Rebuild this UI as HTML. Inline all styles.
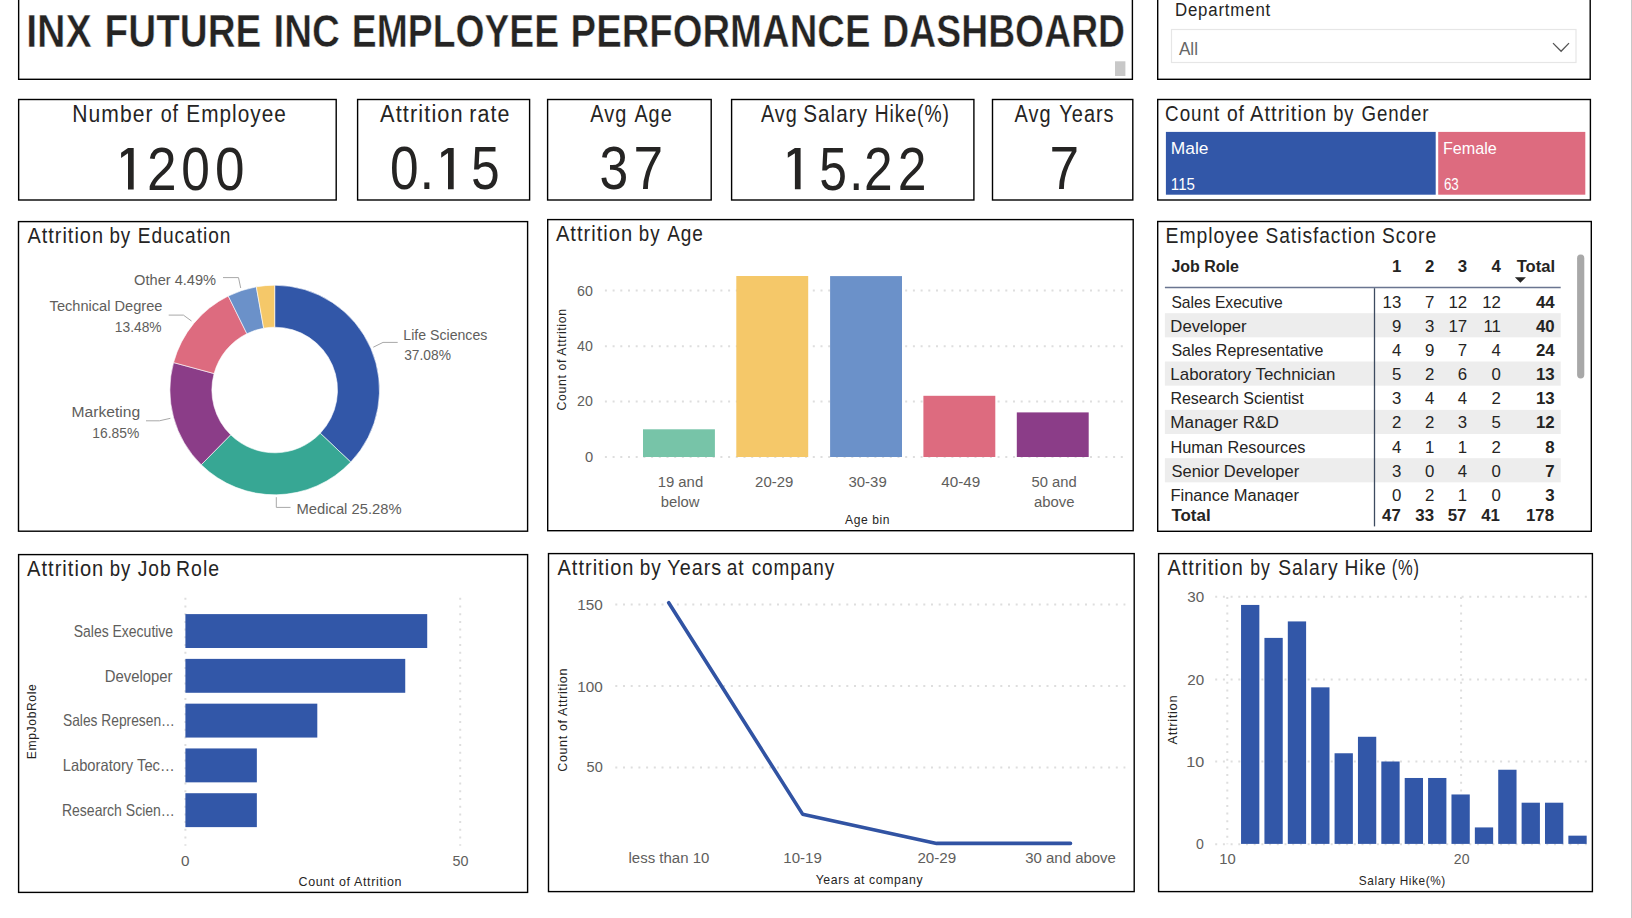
<!DOCTYPE html>
<html><head><meta charset="utf-8"><style>
html,body{margin:0;padding:0;background:#fff;width:1632px;height:918px;overflow:hidden}
svg{display:block}
text{font-family:"Liberation Sans",sans-serif;white-space:pre}
</style></head><body>
<svg width="1632" height="918" viewBox="0 0 1632 918">
<defs><clipPath id="clipRow9"><rect x="1160" y="480" width="420" height="22"/></clipPath></defs>
<rect width="1632" height="918" fill="#fff"/>
<rect x="18.65" y="-5.00" width="1113.75" height="84.30" fill="none" stroke="#000" stroke-width="1.4"/>
<rect x="1157.70" y="-5.00" width="432.50" height="84.30" fill="none" stroke="#000" stroke-width="1.4"/>
<rect x="18.65" y="99.50" width="317.55" height="100.50" fill="none" stroke="#000" stroke-width="1.4"/>
<rect x="357.60" y="99.50" width="172.00" height="100.50" fill="none" stroke="#000" stroke-width="1.4"/>
<rect x="547.60" y="99.50" width="163.60" height="100.50" fill="none" stroke="#000" stroke-width="1.4"/>
<rect x="731.60" y="99.50" width="242.30" height="100.50" fill="none" stroke="#000" stroke-width="1.4"/>
<rect x="992.50" y="99.50" width="140.30" height="100.50" fill="none" stroke="#000" stroke-width="1.4"/>
<rect x="1157.70" y="99.50" width="432.70" height="100.50" fill="none" stroke="#000" stroke-width="1.4"/>
<rect x="18.50" y="221.60" width="509.10" height="309.60" fill="none" stroke="#000" stroke-width="1.4"/>
<rect x="547.70" y="219.60" width="585.50" height="311.10" fill="none" stroke="#000" stroke-width="1.4"/>
<rect x="1157.70" y="221.50" width="433.60" height="309.80" fill="none" stroke="#000" stroke-width="1.4"/>
<rect x="18.60" y="554.60" width="509.00" height="337.80" fill="none" stroke="#000" stroke-width="1.4"/>
<rect x="548.50" y="553.60" width="585.70" height="338.00" fill="none" stroke="#000" stroke-width="1.4"/>
<rect x="1158.60" y="553.60" width="433.80" height="338.00" fill="none" stroke="#000" stroke-width="1.4"/>
<line x1="1631.50" y1="0.00" x2="1631.50" y2="918.00" stroke="#C8C8C8" stroke-width="1"/>
<rect x="1115.00" y="61.30" width="10.40" height="14.70" fill="#C8C8C8" />
<rect x="1171.5" y="29.5" width="404.5" height="33" fill="#fff" stroke="#E6E6E6" stroke-width="1.2"/>
<polyline points="1553.00,43.10 1561.10,51.20 1569.00,43.10" fill="none" stroke="#555" stroke-width="1.3" />
<rect x="1165.90" y="131.90" width="269.80" height="62.80" fill="#3257A8" />
<rect x="1438.20" y="131.90" width="147.10" height="62.80" fill="#DD6B7F" />
<path d="M274.70,285.20 A104.8,104.8 0 0 1 350.74,462.12 L320.27,433.22 A62.8,62.8 0 0 0 274.70,327.20 Z" fill="#3257A8" stroke="#fff" stroke-width="0.6" stroke-linejoin="round"/>
<path d="M350.74,462.12 A104.8,104.8 0 0 1 201.25,464.76 L230.69,434.80 A62.8,62.8 0 0 0 320.27,433.22 Z" fill="#37A794" stroke="#fff" stroke-width="0.6" stroke-linejoin="round"/>
<path d="M201.25,464.76 A104.8,104.8 0 0 1 173.55,362.58 L214.09,373.57 A62.8,62.8 0 0 0 230.69,434.80 Z" fill="#8B3D88" stroke="#fff" stroke-width="0.6" stroke-linejoin="round"/>
<path d="M173.55,362.58 A104.8,104.8 0 0 1 228.28,296.04 L246.88,333.70 A62.8,62.8 0 0 0 214.09,373.57 Z" fill="#DD6B7F" stroke="#fff" stroke-width="0.6" stroke-linejoin="round"/>
<path d="M228.28,296.04 A104.8,104.8 0 0 1 256.30,286.83 L263.67,328.18 A62.8,62.8 0 0 0 246.88,333.70 Z" fill="#6B91C9" stroke="#fff" stroke-width="0.6" stroke-linejoin="round"/>
<path d="M256.30,286.83 A104.8,104.8 0 0 1 274.70,285.20 L274.70,327.20 A62.8,62.8 0 0 0 263.67,328.18 Z" fill="#F5C869" stroke="#fff" stroke-width="0.6" stroke-linejoin="round"/>
<polyline points="373.30,347.20 383.00,342.40 397.70,342.40" fill="none" stroke="#A8A8A8" stroke-width="1" />
<polyline points="276.30,497.20 276.30,507.40 290.50,507.40" fill="none" stroke="#A8A8A8" stroke-width="1" />
<polyline points="146.00,420.80 159.40,420.80 170.40,418.30" fill="none" stroke="#A8A8A8" stroke-width="1" />
<polyline points="168.70,315.10 183.40,315.10 191.50,321.00" fill="none" stroke="#A8A8A8" stroke-width="1" />
<polyline points="223.00,277.60 238.50,277.60 240.70,288.00" fill="none" stroke="#A8A8A8" stroke-width="1" />
<line x1="604.90" y1="290.60" x2="1128.00" y2="290.60" stroke="#DEDEDE" stroke-width="2" stroke-dasharray="2 5.7"/>
<line x1="604.90" y1="346.20" x2="1128.00" y2="346.20" stroke="#DEDEDE" stroke-width="2" stroke-dasharray="2 5.7"/>
<line x1="604.90" y1="401.60" x2="1128.00" y2="401.60" stroke="#DEDEDE" stroke-width="2" stroke-dasharray="2 5.7"/>
<line x1="604.90" y1="457.00" x2="1128.00" y2="457.00" stroke="#DEDEDE" stroke-width="2" stroke-dasharray="2 5.7"/>
<rect x="643.00" y="429.30" width="71.90" height="27.70" fill="#77C4A8" />
<rect x="736.30" y="276.00" width="71.90" height="181.00" fill="#F5C869" />
<rect x="830.10" y="276.10" width="71.90" height="180.90" fill="#6B91C9" />
<rect x="923.40" y="395.80" width="71.90" height="61.20" fill="#DD6B7F" />
<rect x="1016.80" y="412.40" width="71.90" height="44.60" fill="#8B3D88" />
<rect x="1164.90" y="313.17" width="395.80" height="24.17" fill="#EDEDED" />
<rect x="1164.90" y="361.51" width="395.80" height="24.17" fill="#EDEDED" />
<rect x="1164.90" y="409.85" width="395.80" height="24.17" fill="#EDEDED" />
<rect x="1164.90" y="458.19" width="395.80" height="24.17" fill="#EDEDED" />
<line x1="1164.90" y1="287.50" x2="1560.70" y2="287.50" stroke="#6A7590" stroke-width="1.3"/>
<line x1="1374.50" y1="288.20" x2="1374.50" y2="526.40" stroke="#3D4B60" stroke-width="1.3"/>
<path d="M1514.9,277.2 L1525.9,277.2 L1520.4,282.8 Z" fill="#252423"/>
<rect x="1577.1" y="254.6" width="7.2" height="123.8" rx="3.6" fill="#A8A8A8"/>
<line x1="185.40" y1="597.80" x2="185.40" y2="845.80" stroke="#DEDEDE" stroke-width="2" stroke-dasharray="2 5.7"/>
<line x1="460.20" y1="597.80" x2="460.20" y2="845.80" stroke="#DEDEDE" stroke-width="2" stroke-dasharray="2 5.7"/>
<rect x="185.40" y="614.10" width="241.82" height="33.90" fill="#3257A8" />
<rect x="185.40" y="658.88" width="219.84" height="33.90" fill="#3257A8" />
<rect x="185.40" y="703.66" width="131.90" height="33.90" fill="#3257A8" />
<rect x="185.40" y="748.44" width="71.45" height="33.90" fill="#3257A8" />
<rect x="185.40" y="793.22" width="71.45" height="33.90" fill="#3257A8" />
<line x1="615.30" y1="604.60" x2="1125.40" y2="604.60" stroke="#DEDEDE" stroke-width="2" stroke-dasharray="2 5.7"/>
<line x1="615.30" y1="686.10" x2="1125.40" y2="686.10" stroke="#DEDEDE" stroke-width="2" stroke-dasharray="2 5.7"/>
<line x1="615.30" y1="767.40" x2="1125.40" y2="767.40" stroke="#DEDEDE" stroke-width="2" stroke-dasharray="2 5.7"/>
<polyline points="668.70,602.68 802.60,814.14 936.60,843.42 1070.50,843.42" fill="none" stroke="#3153A3" stroke-width="3.6" stroke-linecap="round" stroke-linejoin="round"/>
<line x1="1215.20" y1="596.80" x2="1589.20" y2="596.80" stroke="#DEDEDE" stroke-width="2" stroke-dasharray="2 5.7"/>
<line x1="1215.20" y1="679.60" x2="1589.20" y2="679.60" stroke="#DEDEDE" stroke-width="2" stroke-dasharray="2 5.7"/>
<line x1="1215.20" y1="761.50" x2="1589.20" y2="761.50" stroke="#DEDEDE" stroke-width="2" stroke-dasharray="2 5.7"/>
<line x1="1215.20" y1="844.30" x2="1589.20" y2="844.30" stroke="#DEDEDE" stroke-width="2" stroke-dasharray="2 5.7"/>
<line x1="1227.30" y1="597.00" x2="1227.30" y2="844.30" stroke="#DEDEDE" stroke-width="2" stroke-dasharray="2 5.7"/>
<line x1="1461.10" y1="597.00" x2="1461.10" y2="844.30" stroke="#DEDEDE" stroke-width="2" stroke-dasharray="2 5.7"/>
<rect x="1241.05" y="604.94" width="18.30" height="238.96" fill="#3257A8" />
<rect x="1264.43" y="637.90" width="18.30" height="206.00" fill="#3257A8" />
<rect x="1287.81" y="621.42" width="18.30" height="222.48" fill="#3257A8" />
<rect x="1311.19" y="687.34" width="18.30" height="156.56" fill="#3257A8" />
<rect x="1334.57" y="753.26" width="18.30" height="90.64" fill="#3257A8" />
<rect x="1357.95" y="736.78" width="18.30" height="107.12" fill="#3257A8" />
<rect x="1381.33" y="761.50" width="18.30" height="82.40" fill="#3257A8" />
<rect x="1404.71" y="777.98" width="18.30" height="65.92" fill="#3257A8" />
<rect x="1428.09" y="777.98" width="18.30" height="65.92" fill="#3257A8" />
<rect x="1451.47" y="794.46" width="18.30" height="49.44" fill="#3257A8" />
<rect x="1474.85" y="827.42" width="18.30" height="16.48" fill="#3257A8" />
<rect x="1498.23" y="769.74" width="18.30" height="74.16" fill="#3257A8" />
<rect x="1521.61" y="802.70" width="18.30" height="41.20" fill="#3257A8" />
<rect x="1544.99" y="802.70" width="18.30" height="41.20" fill="#3257A8" />
<rect x="1568.37" y="835.66" width="18.30" height="8.24" fill="#3257A8" />
<path d="M133.70,148.10 L128.00,148.10 L121.10,152.70 L121.10,157.90 L128.00,153.30 L128.00,189.40 L133.70,189.40 Z" fill="#252423"/>
<path d="M453.70,147.90 L448.00,147.90 L441.20,152.50 L441.20,157.70 L448.00,153.10 L448.00,189.20 L453.70,189.20 Z" fill="#252423"/>
<path d="M800.60,148.00 L794.90,148.00 L787.80,152.60 L787.80,157.80 L794.90,153.20 L794.90,189.30 L800.60,189.30 Z" fill="#252423"/>
<text transform="matrix(0.8566 0 0 1 26.13 46.60)" style="font-size:46.03px;font-weight:bold;fill:#252423;stroke:#fff;stroke-width:0.5px">INX</text>
<text transform="matrix(0.8405 0 0 1 104.58 46.60)" style="font-size:46.03px;font-weight:bold;fill:#252423;stroke:#fff;stroke-width:0.5px">FUTURE</text>
<text transform="matrix(0.8385 0 0 1 273.48 46.60)" style="font-size:46.03px;font-weight:bold;fill:#252423;stroke:#fff;stroke-width:0.5px">INC</text>
<text transform="matrix(0.8100 0 0 1 351.87 46.60)" style="font-size:46.03px;font-weight:bold;fill:#252423;stroke:#fff;stroke-width:0.5px">EMPLOYEE</text>
<text transform="matrix(0.8317 0 0 1 570.60 46.60)" style="font-size:46.03px;font-weight:bold;fill:#252423;stroke:#fff;stroke-width:0.5px">PERFORMANCE</text>
<text transform="matrix(0.8112 0 0 1 882.37 46.60)" style="font-size:46.03px;font-weight:bold;fill:#252423;stroke:#fff;stroke-width:0.5px">DASHBOARD</text>
<text transform="matrix(0.8936 0 0 1 1174.91 15.80)" style="font-size:18.82px;font-weight:normal;fill:#252423;letter-spacing:0.94px">Department</text>
<text transform="matrix(0.9552 0 0 1 1178.90 54.90)" style="font-size:17.94px;font-weight:normal;fill:#666666">All</text>
<text transform="matrix(0.8850 0 0 1 72.32 122.00)" style="font-size:23.82px;font-weight:normal;fill:#252423;letter-spacing:1.19px">Number</text>
<text transform="matrix(0.8270 0 0 1 160.67 122.00)" style="font-size:23.82px;font-weight:normal;fill:#252423;letter-spacing:1.19px">of</text>
<text transform="matrix(0.8718 0 0 1 186.33 122.00)" style="font-size:23.82px;font-weight:normal;fill:#252423;letter-spacing:1.19px">Employee</text>
<text transform="matrix(0.8621 0 0 1 147.11 189.60)" style="font-size:61.76px;font-weight:normal;fill:#252423">2</text>
<text transform="matrix(0.8333 0 0 1 181.13 189.60)" style="font-size:61.76px;font-weight:normal;fill:#252423">0</text>
<text transform="matrix(0.8600 0 0 1 214.88 189.60)" style="font-size:61.76px;font-weight:normal;fill:#252423">0</text>
<text transform="matrix(0.9145 0 0 1 380.10 121.80)" style="font-size:23.82px;font-weight:normal;fill:#252423;letter-spacing:1.19px">Attrition</text>
<text transform="matrix(0.8994 0 0 1 469.30 121.80)" style="font-size:23.82px;font-weight:normal;fill:#252423;letter-spacing:1.19px">rate</text>
<text transform="matrix(0.8333 0 0 1 389.93 189.40)" style="font-size:61.76px;font-weight:normal;fill:#252423">0</text>
<text transform="matrix(0.8571 0 0 1 419.41 189.40)" style="font-size:61.76px;font-weight:normal;fill:#252423">.</text>
<text transform="matrix(0.8367 0 0 1 471.03 189.40)" style="font-size:61.76px;font-weight:normal;fill:#252423">5</text>
<text transform="matrix(0.8361 0 0 1 590.30 121.80)" style="font-size:23.82px;font-weight:normal;fill:#252423;letter-spacing:1.19px">Avg</text>
<text transform="matrix(0.8335 0 0 1 634.40 121.80)" style="font-size:23.82px;font-weight:normal;fill:#252423;letter-spacing:1.19px">Age</text>
<text transform="matrix(0.8367 0 0 1 599.53 189.40)" style="font-size:61.76px;font-weight:normal;fill:#252423">3</text>
<text transform="matrix(0.8621 0 0 1 633.51 189.40)" style="font-size:61.76px;font-weight:normal;fill:#252423">7</text>
<text transform="matrix(0.8337 0 0 1 760.90 122.00)" style="font-size:23.82px;font-weight:normal;fill:#252423;letter-spacing:1.19px">Avg</text>
<text transform="matrix(0.8684 0 0 1 803.23 122.00)" style="font-size:23.82px;font-weight:normal;fill:#252423;letter-spacing:1.19px">Salary</text>
<text transform="matrix(0.8088 0 0 1 874.69 122.00)" style="font-size:23.82px;font-weight:normal;fill:#252423;letter-spacing:1.19px">Hike(%)</text>
<text transform="matrix(0.8067 0 0 1 819.29 189.50)" style="font-size:61.76px;font-weight:normal;fill:#252423">5</text>
<text transform="matrix(0.8429 0 0 1 848.99 189.50)" style="font-size:61.76px;font-weight:normal;fill:#252423">.</text>
<text transform="matrix(0.8345 0 0 1 864.00 189.50)" style="font-size:61.76px;font-weight:normal;fill:#252423">2</text>
<text transform="matrix(0.8379 0 0 1 897.79 189.50)" style="font-size:61.76px;font-weight:normal;fill:#252423">2</text>
<text transform="matrix(0.8361 0 0 1 1014.60 121.80)" style="font-size:23.82px;font-weight:normal;fill:#252423;letter-spacing:1.19px">Avg</text>
<text transform="matrix(0.8385 0 0 1 1059.30 121.80)" style="font-size:23.82px;font-weight:normal;fill:#252423;letter-spacing:1.19px">Years</text>
<text transform="matrix(0.8621 0 0 1 1049.61 189.40)" style="font-size:61.76px;font-weight:normal;fill:#252423">7</text>
<text transform="matrix(0.8835 0 0 1 1165.12 120.50)" style="font-size:21.32px;font-weight:normal;fill:#252423;letter-spacing:1.07px">Count</text>
<text transform="matrix(0.9038 0 0 1 1226.90 120.50)" style="font-size:21.32px;font-weight:normal;fill:#252423;letter-spacing:1.07px">of</text>
<text transform="matrix(0.9446 0 0 1 1250.00 120.50)" style="font-size:21.32px;font-weight:normal;fill:#252423;letter-spacing:1.07px">Attrition</text>
<text transform="matrix(0.8595 0 0 1 1333.24 120.50)" style="font-size:21.32px;font-weight:normal;fill:#252423;letter-spacing:1.07px">by</text>
<text transform="matrix(0.8763 0 0 1 1361.52 120.50)" style="font-size:21.32px;font-weight:normal;fill:#252423;letter-spacing:1.07px">Gender</text>
<text transform="matrix(1.0015 0 0 1 1170.80 153.90)" style="font-size:17.35px;font-weight:normal;fill:#ffffff">Male</text>
<text transform="matrix(0.9326 0 0 1 1170.87 190.00)" style="font-size:16.18px;font-weight:normal;fill:#ffffff">115</text>
<text transform="matrix(0.9308 0 0 1 1442.97 153.70)" style="font-size:17.35px;font-weight:normal;fill:#ffffff">Female</text>
<text transform="matrix(0.8285 0 0 1 1443.90 190.00)" style="font-size:16.18px;font-weight:normal;fill:#ffffff">63</text>
<text transform="matrix(0.9358 0 0 1 27.40 242.70)" style="font-size:21.32px;font-weight:normal;fill:#252423;letter-spacing:1.07px">Attrition</text>
<text transform="matrix(0.8814 0 0 1 109.42 242.70)" style="font-size:21.32px;font-weight:normal;fill:#252423;letter-spacing:1.07px">by</text>
<text transform="matrix(0.8968 0 0 1 137.70 242.70)" style="font-size:21.32px;font-weight:normal;fill:#252423;letter-spacing:1.07px">Education</text>
<text transform="matrix(0.9446 0 0 1 555.90 240.70)" style="font-size:21.32px;font-weight:normal;fill:#252423;letter-spacing:1.07px">Attrition</text>
<text transform="matrix(0.8770 0 0 1 638.82 240.70)" style="font-size:21.32px;font-weight:normal;fill:#252423;letter-spacing:1.07px">by</text>
<text transform="matrix(0.8928 0 0 1 667.20 240.70)" style="font-size:21.32px;font-weight:normal;fill:#252423;letter-spacing:1.07px">Age</text>
<text transform="matrix(0.9095 0 0 1 1165.59 242.70)" style="font-size:21.32px;font-weight:normal;fill:#252423;letter-spacing:1.07px">Employee</text>
<text transform="matrix(0.8996 0 0 1 1265.50 242.70)" style="font-size:21.32px;font-weight:normal;fill:#252423;letter-spacing:1.07px">Satisfaction</text>
<text transform="matrix(0.9004 0 0 1 1382.10 242.70)" style="font-size:21.32px;font-weight:normal;fill:#252423;letter-spacing:1.07px">Score</text>
<text transform="matrix(0.9421 0 0 1 27.10 575.60)" style="font-size:21.32px;font-weight:normal;fill:#252423;letter-spacing:1.07px">Attrition</text>
<text transform="matrix(0.8726 0 0 1 109.83 575.60)" style="font-size:21.32px;font-weight:normal;fill:#252423;letter-spacing:1.07px">by</text>
<text transform="matrix(0.9006 0 0 1 137.80 575.60)" style="font-size:21.32px;font-weight:normal;fill:#252423;letter-spacing:1.07px">Job</text>
<text transform="matrix(0.9120 0 0 1 176.09 575.60)" style="font-size:21.32px;font-weight:normal;fill:#252423;letter-spacing:1.07px">Role</text>
<text transform="matrix(0.9396 0 0 1 557.50 574.60)" style="font-size:21.32px;font-weight:normal;fill:#252423;letter-spacing:1.07px">Attrition</text>
<text transform="matrix(0.8901 0 0 1 639.71 574.60)" style="font-size:21.32px;font-weight:normal;fill:#252423;letter-spacing:1.07px">by</text>
<text transform="matrix(0.9298 0 0 1 667.30 574.60)" style="font-size:21.32px;font-weight:normal;fill:#252423;letter-spacing:1.07px">Years</text>
<text transform="matrix(0.8933 0 0 1 726.80 574.60)" style="font-size:21.32px;font-weight:normal;fill:#252423;letter-spacing:1.07px">at</text>
<text transform="matrix(0.8893 0 0 1 751.70 574.60)" style="font-size:21.32px;font-weight:normal;fill:#252423;letter-spacing:1.07px">company</text>
<text transform="matrix(0.9321 0 0 1 1167.40 574.60)" style="font-size:21.32px;font-weight:normal;fill:#252423;letter-spacing:1.07px">Attrition</text>
<text transform="matrix(0.8290 0 0 1 1250.17 574.60)" style="font-size:21.32px;font-weight:normal;fill:#252423;letter-spacing:1.07px">by</text>
<text transform="matrix(0.9019 0 0 1 1278.30 574.60)" style="font-size:21.32px;font-weight:normal;fill:#252423;letter-spacing:1.07px">Salary</text>
<text transform="matrix(0.9027 0 0 1 1344.40 574.60)" style="font-size:21.32px;font-weight:normal;fill:#252423;letter-spacing:1.07px">Hike</text>
<text transform="matrix(0.7746 0 0 1 1391.73 574.60)" style="font-size:21.32px;font-weight:normal;fill:#252423;letter-spacing:1.07px">(%)</text>
<text transform="matrix(0.9559 0 0 1 134.10 285.00)" style="font-size:15.29px;font-weight:normal;fill:#605E5C">Other 4.49%</text>
<text transform="matrix(0.9560 0 0 1 49.60 310.70)" style="font-size:15.29px;font-weight:normal;fill:#605E5C">Technical Degree</text>
<text transform="matrix(0.9036 0 0 1 114.80 331.80)" style="font-size:15.29px;font-weight:normal;fill:#605E5C">13.48%</text>
<text transform="matrix(1.0229 0 0 1 71.48 416.70)" style="font-size:15.29px;font-weight:normal;fill:#605E5C">Marketing</text>
<text transform="matrix(0.9055 0 0 1 92.29 437.80)" style="font-size:15.29px;font-weight:normal;fill:#605E5C">16.85%</text>
<text transform="matrix(0.9252 0 0 1 403.27 340.00)" style="font-size:15.29px;font-weight:normal;fill:#605E5C">Life Sciences</text>
<text transform="matrix(0.9016 0 0 1 404.20 359.70)" style="font-size:15.29px;font-weight:normal;fill:#605E5C">37.08%</text>
<text transform="matrix(0.9663 0 0 1 296.53 513.50)" style="font-size:15.29px;font-weight:normal;fill:#605E5C">Medical 25.28%</text>
<text transform="matrix(0.9273 0 0 1 577.00 295.70)" style="font-size:15.29px;font-weight:normal;fill:#605E5C">60</text>
<text transform="matrix(0.9273 0 0 1 577.00 351.00)" style="font-size:15.29px;font-weight:normal;fill:#605E5C">40</text>
<text transform="matrix(0.9273 0 0 1 577.00 406.30)" style="font-size:15.29px;font-weight:normal;fill:#605E5C">20</text>
<text transform="matrix(0.9625 0 0 1 584.90 461.80)" style="font-size:15.29px;font-weight:normal;fill:#605E5C">0</text>
<text transform="matrix(0.9748 0 0 1 657.63 486.60)" style="font-size:15.29px;font-weight:normal;fill:#605E5C">19 and</text>
<text transform="matrix(0.9709 0 0 1 660.80 507.20)" style="font-size:15.29px;font-weight:normal;fill:#605E5C">below</text>
<text transform="matrix(0.9771 0 0 1 755.10 486.60)" style="font-size:15.29px;font-weight:normal;fill:#605E5C">20-29</text>
<text transform="matrix(0.9771 0 0 1 848.50 486.60)" style="font-size:15.29px;font-weight:normal;fill:#605E5C">30-39</text>
<text transform="matrix(0.9978 0 0 1 941.20 486.50)" style="font-size:15.29px;font-weight:normal;fill:#605E5C">40-49</text>
<text transform="matrix(0.9645 0 0 1 1031.50 486.50)" style="font-size:15.29px;font-weight:normal;fill:#605E5C">50 and</text>
<text transform="matrix(0.9724 0 0 1 1034.00 507.10)" style="font-size:15.29px;font-weight:normal;fill:#605E5C">above</text>
<text transform="matrix(0.9334 0 0 1 845.00 523.90)" style="font-size:12.94px;font-weight:normal;fill:#252423;letter-spacing:0.65px">Age bin</text>
<text transform="matrix(0 -0.9518 1 0 566.30 410.50)" style="font-size:12.94px;font-weight:normal;fill:#252423;letter-spacing:0.65px">Count of Attrition</text>
<text transform="matrix(0.9877 0 0 1 1171.40 271.60)" style="font-size:16.18px;font-weight:bold;fill:#252423">Job Role</text>
<text transform="matrix(1.0400 0 0 1 1391.94 271.60)" style="font-size:16.18px;font-weight:bold;fill:#252423">1</text>
<text transform="matrix(1.0400 0 0 1 1425.04 271.60)" style="font-size:16.18px;font-weight:bold;fill:#252423">2</text>
<text transform="matrix(1.0400 0 0 1 1457.84 271.60)" style="font-size:16.18px;font-weight:bold;fill:#252423">3</text>
<text transform="matrix(1.0400 0 0 1 1491.54 271.60)" style="font-size:16.18px;font-weight:bold;fill:#252423">4</text>
<text transform="matrix(1.0270 0 0 1 1516.70 271.60)" style="font-size:16.18px;font-weight:bold;fill:#252423">Total</text>
<text transform="matrix(0.9681 0 0 1 1171.40 307.60)" style="font-size:16.18px;font-weight:normal;fill:#252423">Sales Executive</text>
<text transform="matrix(1.0400 0 0 1 1382.60 307.60)" style="font-size:16.18px;font-weight:normal;fill:#252423">13</text>
<text transform="matrix(1.0400 0 0 1 1425.04 307.60)" style="font-size:16.18px;font-weight:normal;fill:#252423">7</text>
<text transform="matrix(1.0400 0 0 1 1448.50 307.60)" style="font-size:16.18px;font-weight:normal;fill:#252423">12</text>
<text transform="matrix(1.0400 0 0 1 1482.20 307.60)" style="font-size:16.18px;font-weight:normal;fill:#252423">12</text>
<text transform="matrix(1.0400 0 0 1 1535.90 307.60)" style="font-size:16.18px;font-weight:bold;fill:#252423">44</text>
<text transform="matrix(1.0346 0 0 1 1170.37 331.77)" style="font-size:16.18px;font-weight:normal;fill:#252423">Developer</text>
<text transform="matrix(1.0400 0 0 1 1391.94 331.77)" style="font-size:16.18px;font-weight:normal;fill:#252423">9</text>
<text transform="matrix(1.0400 0 0 1 1425.04 331.77)" style="font-size:16.18px;font-weight:normal;fill:#252423">3</text>
<text transform="matrix(1.0400 0 0 1 1448.50 331.77)" style="font-size:16.18px;font-weight:normal;fill:#252423">17</text>
<text transform="matrix(1.0400 0 0 1 1483.44 331.77)" style="font-size:16.18px;font-weight:normal;fill:#252423">11</text>
<text transform="matrix(1.0400 0 0 1 1535.90 331.77)" style="font-size:16.18px;font-weight:bold;fill:#252423">40</text>
<text transform="matrix(0.9897 0 0 1 1171.40 355.94)" style="font-size:16.18px;font-weight:normal;fill:#252423">Sales Representative</text>
<text transform="matrix(1.0400 0 0 1 1391.94 355.94)" style="font-size:16.18px;font-weight:normal;fill:#252423">4</text>
<text transform="matrix(1.0400 0 0 1 1425.04 355.94)" style="font-size:16.18px;font-weight:normal;fill:#252423">9</text>
<text transform="matrix(1.0400 0 0 1 1457.84 355.94)" style="font-size:16.18px;font-weight:normal;fill:#252423">7</text>
<text transform="matrix(1.0400 0 0 1 1491.54 355.94)" style="font-size:16.18px;font-weight:normal;fill:#252423">4</text>
<text transform="matrix(1.0400 0 0 1 1535.90 355.94)" style="font-size:16.18px;font-weight:bold;fill:#252423">24</text>
<text transform="matrix(1.0450 0 0 1 1170.36 380.11)" style="font-size:16.18px;font-weight:normal;fill:#252423">Laboratory Technician</text>
<text transform="matrix(1.0400 0 0 1 1391.94 380.11)" style="font-size:16.18px;font-weight:normal;fill:#252423">5</text>
<text transform="matrix(1.0400 0 0 1 1425.04 380.11)" style="font-size:16.18px;font-weight:normal;fill:#252423">2</text>
<text transform="matrix(1.0400 0 0 1 1457.84 380.11)" style="font-size:16.18px;font-weight:normal;fill:#252423">6</text>
<text transform="matrix(1.0400 0 0 1 1491.54 380.11)" style="font-size:16.18px;font-weight:normal;fill:#252423">0</text>
<text transform="matrix(1.0400 0 0 1 1535.90 380.11)" style="font-size:16.18px;font-weight:bold;fill:#252423">13</text>
<text transform="matrix(0.9888 0 0 1 1170.41 404.28)" style="font-size:16.18px;font-weight:normal;fill:#252423">Research Scientist</text>
<text transform="matrix(1.0400 0 0 1 1391.94 404.28)" style="font-size:16.18px;font-weight:normal;fill:#252423">3</text>
<text transform="matrix(1.0400 0 0 1 1425.04 404.28)" style="font-size:16.18px;font-weight:normal;fill:#252423">4</text>
<text transform="matrix(1.0400 0 0 1 1457.84 404.28)" style="font-size:16.18px;font-weight:normal;fill:#252423">4</text>
<text transform="matrix(1.0400 0 0 1 1491.54 404.28)" style="font-size:16.18px;font-weight:normal;fill:#252423">2</text>
<text transform="matrix(1.0400 0 0 1 1535.90 404.28)" style="font-size:16.18px;font-weight:bold;fill:#252423">13</text>
<text transform="matrix(1.0586 0 0 1 1170.34 428.45)" style="font-size:16.18px;font-weight:normal;fill:#252423">Manager R&amp;D</text>
<text transform="matrix(1.0400 0 0 1 1391.94 428.45)" style="font-size:16.18px;font-weight:normal;fill:#252423">2</text>
<text transform="matrix(1.0400 0 0 1 1425.04 428.45)" style="font-size:16.18px;font-weight:normal;fill:#252423">2</text>
<text transform="matrix(1.0400 0 0 1 1457.84 428.45)" style="font-size:16.18px;font-weight:normal;fill:#252423">3</text>
<text transform="matrix(1.0400 0 0 1 1491.54 428.45)" style="font-size:16.18px;font-weight:normal;fill:#252423">5</text>
<text transform="matrix(1.0400 0 0 1 1535.90 428.45)" style="font-size:16.18px;font-weight:bold;fill:#252423">12</text>
<text transform="matrix(1.0082 0 0 1 1170.39 452.62)" style="font-size:16.18px;font-weight:normal;fill:#252423">Human Resources</text>
<text transform="matrix(1.0400 0 0 1 1391.94 452.62)" style="font-size:16.18px;font-weight:normal;fill:#252423">4</text>
<text transform="matrix(1.0400 0 0 1 1425.04 452.62)" style="font-size:16.18px;font-weight:normal;fill:#252423">1</text>
<text transform="matrix(1.0400 0 0 1 1457.84 452.62)" style="font-size:16.18px;font-weight:normal;fill:#252423">1</text>
<text transform="matrix(1.0400 0 0 1 1491.54 452.62)" style="font-size:16.18px;font-weight:normal;fill:#252423">2</text>
<text transform="matrix(1.0400 0 0 1 1545.24 452.62)" style="font-size:16.18px;font-weight:bold;fill:#252423">8</text>
<text transform="matrix(1.0227 0 0 1 1171.40 476.79)" style="font-size:16.18px;font-weight:normal;fill:#252423">Senior Developer</text>
<text transform="matrix(1.0400 0 0 1 1391.94 476.79)" style="font-size:16.18px;font-weight:normal;fill:#252423">3</text>
<text transform="matrix(1.0400 0 0 1 1425.04 476.79)" style="font-size:16.18px;font-weight:normal;fill:#252423">0</text>
<text transform="matrix(1.0400 0 0 1 1457.84 476.79)" style="font-size:16.18px;font-weight:normal;fill:#252423">4</text>
<text transform="matrix(1.0400 0 0 1 1491.54 476.79)" style="font-size:16.18px;font-weight:normal;fill:#252423">0</text>
<text transform="matrix(1.0400 0 0 1 1545.24 476.79)" style="font-size:16.18px;font-weight:bold;fill:#252423">7</text>
<g clip-path="url(#clipRow9)"><text transform="matrix(1.0211 0 0 1 1170.38 500.96)" style="font-size:16.18px;font-weight:normal;fill:#252423">Finance Manager</text></g>
<text transform="matrix(1.0400 0 0 1 1391.94 500.96)" style="font-size:16.18px;font-weight:normal;fill:#252423">0</text>
<text transform="matrix(1.0400 0 0 1 1425.04 500.96)" style="font-size:16.18px;font-weight:normal;fill:#252423">2</text>
<text transform="matrix(1.0400 0 0 1 1457.84 500.96)" style="font-size:16.18px;font-weight:normal;fill:#252423">1</text>
<text transform="matrix(1.0400 0 0 1 1491.54 500.96)" style="font-size:16.18px;font-weight:normal;fill:#252423">0</text>
<text transform="matrix(1.0400 0 0 1 1545.24 500.96)" style="font-size:16.18px;font-weight:bold;fill:#252423">3</text>
<text transform="matrix(1.0487 0 0 1 1171.40 521.20)" style="font-size:16.18px;font-weight:bold;fill:#252423">Total</text>
<text transform="matrix(1.0400 0 0 1 1382.10 521.20)" style="font-size:16.18px;font-weight:bold;fill:#252423">47</text>
<text transform="matrix(1.0400 0 0 1 1415.30 521.20)" style="font-size:16.18px;font-weight:bold;fill:#252423">33</text>
<text transform="matrix(1.0400 0 0 1 1447.70 521.20)" style="font-size:16.18px;font-weight:bold;fill:#252423">57</text>
<text transform="matrix(1.0400 0 0 1 1481.20 521.20)" style="font-size:16.18px;font-weight:bold;fill:#252423">41</text>
<text transform="matrix(1.0400 0 0 1 1525.95 521.20)" style="font-size:16.18px;font-weight:bold;fill:#252423">178</text>
<text transform="matrix(0.8805 0 0 1 73.70 636.90)" style="font-size:15.88px;font-weight:normal;fill:#605E5C">Sales Executive</text>
<text transform="matrix(0.9393 0 0 1 104.66 681.68)" style="font-size:15.88px;font-weight:normal;fill:#605E5C">Developer</text>
<text transform="matrix(0.8688 0 0 1 63.00 726.46)" style="font-size:15.88px;font-weight:normal;fill:#605E5C">Sales Represen…</text>
<text transform="matrix(0.9287 0 0 1 62.77 771.24)" style="font-size:15.88px;font-weight:normal;fill:#605E5C">Laboratory Tec…</text>
<text transform="matrix(0.8836 0 0 1 61.92 816.02)" style="font-size:15.88px;font-weight:normal;fill:#605E5C">Research Scien…</text>
<text transform="matrix(1.0000 0 0 1 181.00 865.80)" style="font-size:15.29px;font-weight:normal;fill:#605E5C">0</text>
<text transform="matrix(0.9395 0 0 1 452.60 865.80)" style="font-size:15.29px;font-weight:normal;fill:#605E5C">50</text>
<text transform="matrix(0.9649 0 0 1 298.50 885.90)" style="font-size:12.94px;font-weight:normal;fill:#252423;letter-spacing:0.65px">Count of Attrition</text>
<text transform="matrix(0 -0.9378 1 0 35.60 759.14)" style="font-size:12.94px;font-weight:normal;fill:#252423;letter-spacing:0.65px">EmpJobRole</text>
<text transform="matrix(1.0001 0 0 1 577.30 610.10)" style="font-size:15.29px;font-weight:normal;fill:#605E5C">150</text>
<text transform="matrix(1.0001 0 0 1 577.30 691.50)" style="font-size:15.29px;font-weight:normal;fill:#605E5C">100</text>
<text transform="matrix(0.9516 0 0 1 586.60 771.90)" style="font-size:15.29px;font-weight:normal;fill:#605E5C">50</text>
<text transform="matrix(0.9814 0 0 1 628.52 863.40)" style="font-size:15.29px;font-weight:normal;fill:#605E5C">less than 10</text>
<text transform="matrix(0.9844 0 0 1 783.32 863.40)" style="font-size:15.29px;font-weight:normal;fill:#605E5C">10-19</text>
<text transform="matrix(0.9926 0 0 1 917.40 863.40)" style="font-size:15.29px;font-weight:normal;fill:#605E5C">20-29</text>
<text transform="matrix(0.9791 0 0 1 1025.20 863.40)" style="font-size:15.29px;font-weight:normal;fill:#605E5C">30 and above</text>
<text transform="matrix(0.9469 0 0 1 815.70 884.10)" style="font-size:12.94px;font-weight:normal;fill:#252423;letter-spacing:0.65px">Years at company</text>
<text transform="matrix(0 -0.9658 1 0 567.00 771.70)" style="font-size:12.94px;font-weight:normal;fill:#252423;letter-spacing:0.65px">Count of Attrition</text>
<text transform="matrix(0.9940 0 0 1 1187.20 601.80)" style="font-size:15.29px;font-weight:normal;fill:#605E5C">30</text>
<text transform="matrix(0.9940 0 0 1 1187.20 684.60)" style="font-size:15.29px;font-weight:normal;fill:#605E5C">20</text>
<text transform="matrix(1.0582 0 0 1 1186.14 766.50)" style="font-size:15.29px;font-weight:normal;fill:#605E5C">10</text>
<text transform="matrix(0.9250 0 0 1 1196.00 849.40)" style="font-size:15.29px;font-weight:normal;fill:#605E5C">0</text>
<text transform="matrix(0.9678 0 0 1 1219.33 863.50)" style="font-size:15.29px;font-weight:normal;fill:#605E5C">10</text>
<text transform="matrix(0.9213 0 0 1 1453.80 863.80)" style="font-size:15.29px;font-weight:normal;fill:#605E5C">20</text>
<text transform="matrix(0.9134 0 0 1 1358.80 884.50)" style="font-size:12.94px;font-weight:normal;fill:#252423;letter-spacing:0.65px">Salary Hike(%)</text>
<text transform="matrix(0 -1.0033 1 0 1177.20 744.50)" style="font-size:12.94px;font-weight:normal;fill:#252423;letter-spacing:0.65px">Attrition</text>
</svg>
</body></html>
